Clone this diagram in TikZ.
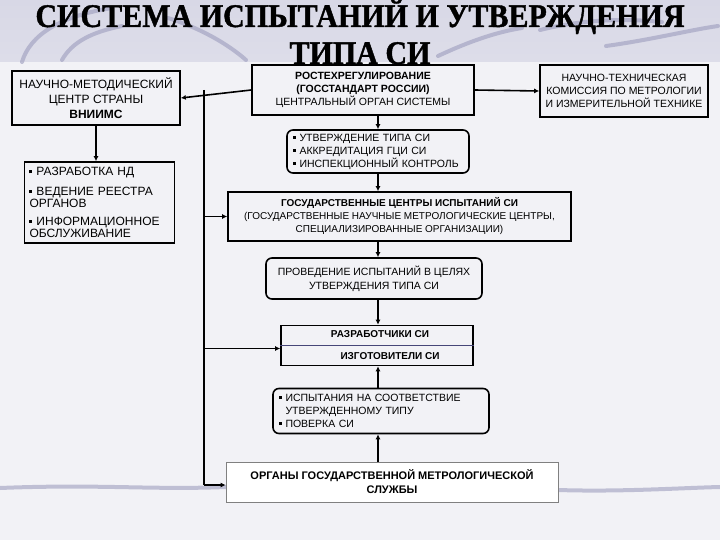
\documentclass[tikz,border=0pt]{standalone}
\usepackage{fontspec}
\setmainfont{Liberation Sans}
\newfontfamily\titlefont{Liberation Serif}[FakeStretch=0.91, BoldFeatures={FakeStretch=0.91, FakeBold=1.2}]
\usetikzlibrary{arrows.meta}

\definecolor{pagebg}{RGB}{242,242,246}
\definecolor{bandbg}{RGB}{216,216,230}
\definecolor{swoosh}{RGB}{150,150,185}
\definecolor{divider}{RGB}{70,70,120}

\newcommand{\blt}{\rule[2.6pt]{3pt}{3pt}\ }

\tikzset{
  box/.style={draw, line width=1.6pt, align=center, inner sep=2pt},
  roundbox/.style={box, rounded corners=6pt},
  link/.style={line width=1.6pt, -{Latex[length=5pt,width=5pt]}},
  wire/.style={line width=1.6pt},
  deco/.style={swoosh, line width=4pt, line cap=round, opacity=0.55},
  txt/.style={font=\fontsize{10.5}{13}\selectfont}
}

\begin{document}
\begin{tikzpicture}[x=1pt, y=-1pt]
    % Page and title band
    \useasboundingbox (0,0) rectangle (720,540);
    \fill[pagebg] (0,0) rectangle (720,540);
    \shade[top color=bandbg, bottom color=bandbg!80!pagebg] (0,0) rectangle (720,62);

    % Swooshes
    \draw[deco] (22,62) .. controls (30,35) and (60,16) .. (112,8);
    \draw[deco] (62,60) .. controls (72,42) and (92,32) .. (122,26);
    \draw[deco] (168,18) .. controls (200,28) and (228,44) .. (246,60);
    \draw[deco] (438,56) .. controls (468,42) and (496,32) .. (522,28);
    \draw[deco] (540,30) .. controls (580,20) and (620,18) .. (662,22);
    \draw[deco] (606,46) .. controls (650,40) and (690,30) .. (718,26);
    \draw[deco] (0,488) .. controls (100,484) and (150,490) .. (226,487);
    \draw[deco] (558,490) .. controls (620,492) and (680,488) .. (720,487);

    % Title
    \node[anchor=base, font=\titlefont\bfseries\fontsize{33}{37}\selectfont] (title1) at (360,27) {СИСТЕМА ИСПЫТАНИЙ И УТВЕРЖДЕНИЯ};
    \node[anchor=base, font=\titlefont\bfseries\fontsize{33}{37}\selectfont] (title2) at (360,64) {ТИПА СИ};

    % Left column
    \node[box, minimum width=168, minimum height=54, font=\fontsize{12}{15}\selectfont] (nmc) at (96,98)
        {НАУЧНО-МЕТОДИЧЕСКИЙ\\ЦЕНТР СТРАНЫ\\\textbf{ВНИИМС}};
    \node[box, text width=140, inner xsep=5, minimum height=81, align=left, font=\fontsize{12}{10}\selectfont] (tasks) at (99.5,202.5)
        {\blt РАЗРАБОТКА НД\\[8pt]\blt ВЕДЕНИЕ РЕЕСТРА\\ОРГАНОВ\\[8pt]\blt ИНФОРМАЦИОННОЕ\\ОБСЛУЖИВАНИЕ};

    % Top row
    \node[box, minimum width=222, minimum height=50, txt] (rst) at (363,90)
        {\textbf{РОСТЕХРЕГУЛИРОВАНИЕ}\\\textbf{(ГОССТАНДАРТ РОССИИ)}\\ЦЕНТРАЛЬНЫЙ ОРГАН СИСТЕМЫ};
    \node[box, minimum width=168, minimum height=52, txt] (ntk) at (624,91)
        {НАУЧНО-ТЕХНИЧЕСКАЯ\\КОМИССИЯ ПО МЕТРОЛОГИИ\\И ИЗМЕРИТЕЛЬНОЙ ТЕХНИКЕ};

    % Middle column
    \node[roundbox, text width=170, inner xsep=6, minimum height=43, align=left, txt] (appr) at (378,151.5)
        {\blt УТВЕРЖДЕНИЕ ТИПА СИ\\\blt АККРЕДИТАЦИЯ ГЦИ СИ\\\blt ИНСПЕКЦИОННЫЙ КОНТРОЛЬ};
    \node[box, minimum width=343, minimum height=49, font=\fontsize{10}{13}\selectfont] (gci) at (399.5,216.5)
        {\textbf{ГОСУДАРСТВЕННЫЕ ЦЕНТРЫ ИСПЫТАНИЙ СИ}\\(ГОСУДАРСТВЕННЫЕ НАУЧНЫЕ МЕТРОЛОГИЧЕСКИЕ ЦЕНТРЫ,\\СПЕЦИАЛИЗИРОВАННЫЕ ОРГАНИЗАЦИИ)};
    \node[roundbox, minimum width=216, minimum height=41, font=\fontsize{10.5}{14}\selectfont] (test) at (374,278.5)
        {ПРОВЕДЕНИЕ ИСПЫТАНИЙ В ЦЕЛЯХ\\УТВЕРЖДЕНИЯ ТИПА СИ};

    % Developers / manufacturers
    \node[box, minimum width=192, minimum height=40] (dev) at (377,345.5) {};
    \draw[divider, line width=1.2pt] (dev.west) -- (dev.east);
    \node[txt, font=\bfseries] (devA) at (380,334) {РАЗРАБОТЧИКИ СИ};
    \node[txt, font=\bfseries] (devB) at (390,356) {ИЗГОТОВИТЕЛИ СИ};

    \node[roundbox, text width=204, inner xsep=6, minimum height=45, align=left, txt] (ver) at (381,411)
        {\blt ИСПЫТАНИЯ НА СООТВЕТСТВИЕ\\\phantom{\blt}УТВЕРЖДЕННОМУ ТИПУ\\\blt ПОВЕРКА СИ};
    \node[draw=gray, line width=0.8pt, fill=white, minimum width=332, minimum height=40, align=center,
          font=\bfseries\fontsize{11}{14}\selectfont] (org) at (392,482)
        {ОРГАНЫ ГОСУДАРСТВЕННОЙ МЕТРОЛОГИЧЕСКОЙ\\СЛУЖБЫ};

    % Guide lines
    \coordinate (trunk) at (204,0);
    \coordinate (spine) at (378,0);

    % Top row links
    \draw[link] (rst.west) -- (nmc.east);
    \draw[link] (rst.east) -- (ntk.west);
    \draw[link] (nmc.south) -- (nmc.south |- tasks.north);

    % Left trunk
    \draw[wire] (rst.west -| trunk) -- ([yshift=-3pt]org.west -| trunk);
    \draw[link] (gci.west -| trunk) -- (gci.west);
    \draw[link] ([yshift=-3pt]dev.west -| trunk) -- ([yshift=-3pt]dev.west);
    \draw[link] ([yshift=-3pt]org.west -| trunk) -- ([yshift=-3pt]org.west);

    % Central spine
    \draw[link] (rst.south -| spine) -- (appr.north -| spine);
    \draw[link] (appr.south -| spine) -- (gci.north -| spine);
    \draw[link] (gci.south -| spine) -- (test.north -| spine);
    \draw[link] (test.south -| spine) -- (dev.north -| spine);
    \draw[link] (ver.north -| spine) -- (dev.south -| spine);
    \draw[link] (org.north -| spine) -- (ver.south -| spine);
\end{tikzpicture}
\end{document}
